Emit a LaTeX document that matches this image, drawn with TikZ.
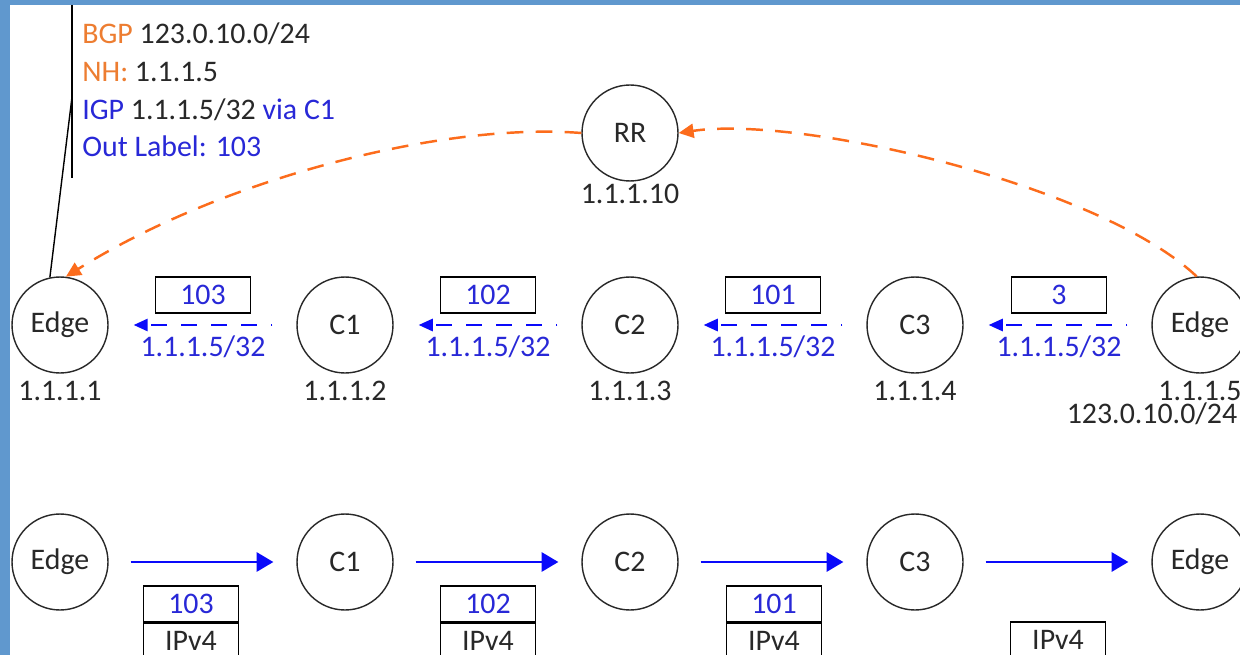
\documentclass[tikz,border=0pt]{standalone}
\usepackage{fontspec}
\setmainfont{Carlito}
\usetikzlibrary{positioning,arrows.meta}

\definecolor{frameblue}{RGB}{96,152,206}
\definecolor{bgporange}{RGB}{237,125,49}
\definecolor{arcorange}{RGB}{252,108,28}
\definecolor{lblblue}{RGB}{40,40,215}
\definecolor{lineblue}{RGB}{10,10,250}
\definecolor{txt}{RGB}{40,40,40}

\begin{document}
\begin{tikzpicture}[x=0.02cm, y=-0.02cm,
  every node/.style={font=\fontsize{17}{20}\selectfont, text=txt},
  router/.style={draw=txt, circle, line width=0.8pt, minimum size=1.92cm, inner sep=0pt},
  addr/.style={inner sep=0pt},
  lblbox/.style={draw=black, line width=0.8pt, minimum width=1.9cm, minimum height=0.72cm, inner sep=0pt, text=lblblue},
  ipbox/.style={draw=black, line width=0.8pt, minimum width=1.9cm, minimum height=0.72cm, inner sep=0pt},
  adv/.style={lineblue, line width=1.1pt, dash pattern=on 9pt off 8pt, dash phase=8pt,
    -{Triangle[length=8pt,width=7pt]}, shorten <=0.48cm, shorten >=0.5cm},
  fwd/.style={lineblue, line width=1.1pt, -{Triangle[length=9.5pt,width=11pt]},
    shorten <=0.44cm, shorten >=0.46cm},
  ibgp/.style={arcorange, line width=1.4pt, dash pattern=on 9.5pt off 7pt,
    -{Triangle[length=8.5pt,width=8pt]}}
]
  \useasboundingbox (0,0) rectangle (1240,655);
  % frame
  \fill[frameblue] (0,0) rectangle (1240,655);
  \fill[white] (10,5) rectangle (1240,655);

  % route reflector
  \node[router] (rr) at (630,133) {RR};
  \node[addr, below=1pt of rr] (rraddr) {1.1.1.10};

  % control plane
  \node[router] (e1) at (60,325) {Edge};
  \node[router] (c1) at (345,325) {C1};
  \node[router] (c2) at (630,325) {C2};
  \node[router] (c3) at (915,325) {C3};
  \node[router] (e2) at (1200,325) {Edge};
  \node[addr, below=4pt of e1] (e1addr) {1.1.1.1};
  \node[addr, below=4pt of c1] (c1addr) {1.1.1.2};
  \node[addr, below=4pt of c2] (c2addr) {1.1.1.3};
  \node[addr, below=4pt of c3] (c3addr) {1.1.1.4};
  \node[addr, below=4pt of e2] (e2addr) {1.1.1.5};
  \node[addr] (pfx) at (1152,414) {123.0.10.0/24};

  \draw[adv] (c1) -- (e1);
  \draw[adv] (c2) -- (c1);
  \draw[adv] (c3) -- (c2);
  \draw[adv] (e2) -- (c3);
  \node[lblbox] (l103) at (203,295) {103};
  \node[lblbox] (l102) at (488,295) {102};
  \node[lblbox] (l101) at (773,295) {101};
  \node[lblbox] (l3) at (1059,295) {3};
  \node[addr, text=lblblue] (p1) at (203,347) {1.1.1.5/32};
  \node[addr, text=lblblue] (p2) at (488,347) {1.1.1.5/32};
  \node[addr, text=lblblue] (p3) at (773,347) {1.1.1.5/32};
  \node[addr, text=lblblue] (p4) at (1059,347) {1.1.1.5/32};

  % iBGP via RR
  \draw[ibgp] (e2.94) .. controls (1100,185) and (800,115) .. (rr.east);
  \draw[ibgp] (rr.west) .. controls (440,122) and (220,180) .. (e1.83);

  % callout
  \coordinate (cotop) at (72,5);
  \coordinate (cobot) at (72,178);
  \coordinate (coknee) at (72,97);
  \draw[line width=0.8pt] (cotop) -- (cobot);
  \draw[line width=0.8pt] (coknee) -- (e1.102);
  \node[addr, anchor=base west] (bgp) at (82,44) {\textcolor{bgporange}{BGP} 123.0.10.0/24};
  \node[addr, anchor=base west] (nh) at (82,82) {\textcolor{bgporange}{NH:} 1.1.1.5};
  \node[addr, anchor=base west] (igp) at (82,120) {\textcolor{lblblue}{IGP} 1.1.1.5/32 \textcolor{lblblue}{via C1}};
  \node[addr, anchor=base west, text=lblblue] (outl) at (82,157) {Out Label: 103};

  % data plane
  \node[router] (e1b) at (60,562) {Edge};
  \node[router] (c1b) at (345,562) {C1};
  \node[router] (c2b) at (630,562) {C2};
  \node[router] (c3b) at (915,562) {C3};
  \node[router] (e2b) at (1200,562) {Edge};
  \draw[fwd] (e1b) -- (c1b);
  \draw[fwd] (c1b) -- (c2b);
  \draw[fwd] (c2b) -- (c3b);
  \draw[fwd] (c3b) -- (e2b);
  \node[lblbox] (s103) at (191,604) {103};
  \node[ipbox, below=0pt of s103] (ip1) {IPv4};
  \node[lblbox] (s102) at (488,604) {102};
  \node[ipbox, below=0pt of s102] (ip2) {IPv4};
  \node[lblbox] (s101) at (774,604) {101};
  \node[ipbox, below=0pt of s101] (ip3) {IPv4};
  \node[ipbox] (ip4) at (1058,640) {IPv4};
\end{tikzpicture}
\end{document}
